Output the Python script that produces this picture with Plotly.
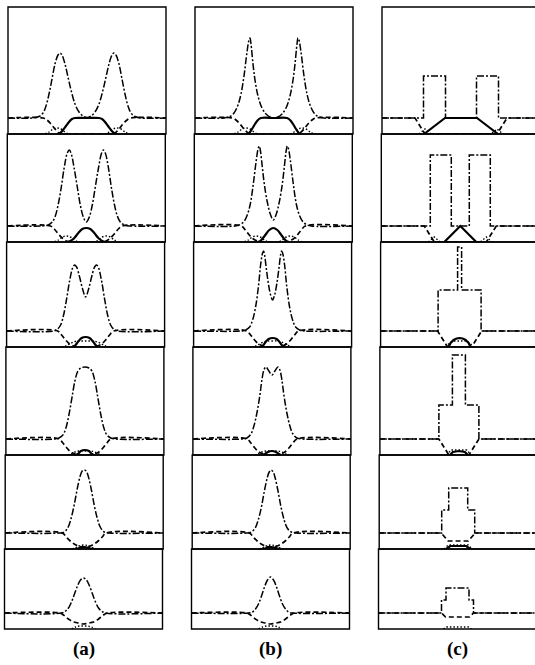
import plotly.graph_objects as go

# ---------------- data: half-profiles (distance from panel centre, level) ----------------
# Column (a)
A_TOTAL = [
    [(0,16.5),(4,18),(8,22),(12,30),(16,44),(19,57),(22,70),(25,79),(27,81),(29,79),(32,70),(35,55),(38,40),(41,28),(44,21),(48,17.5),(54,16),(79,16)],
    [(0,20),(3,25),(6,37),(9,55),(12,73),(15,88),(17,92),(19,89),(22,75),(25,55),(28,38),(31,26),(34,20),(38,17),(44,16),(79,16)],
    [(0,50),(3,58),(6,70),(9,80),(11,82),(13,79),(16,66),(19,48),(22,32),(25,22),(28,18),(32,16),(79,16)],
    [(0,88),(4,87),(7,84),(10,74),(13,57),(16,40),(19,27),(22,20),(26,17),(30,16),(79,16)],
    [(0,79),(2,78),(4,73),(7,60),(10,44),(13,31),(16,22),(20,17),(25,16),(79,16)],
    [(0,51),(3,49),(6,43),(9,35),(12,27),(15,21),(18,18),(22,16),(79,16)],
]
A_DARK = [
    [(0,0),(25,0),(28,1),(32,5),(36,10),(40,14),(44,16),(79,16)],
    [(0,0),(17,0),(20,1),(24,4),(28,8),(32,13),(36,16),(79,16)],
    [(0,0),(9,0),(12,1),(16,3),(20,7),(24,12),(28,16),(79,16)],
    [(0,0),(6,0),(10,1),(14,3),(18,7),(22,12),(26,16),(79,16)],
    [(0,2),(6,3),(10,5),(14,8),(18,12),(22,16),(79,16)],
    [(0,5),(5,6),(10,7),(15,10),(20,14),(24,16),(79,16)],
]
A_SOLID = [
    [(0,16),(12,16),(15,15),(18,12),(21,8),(24,4),(27,1),(30,0)],
    [(0,14),(4,13),(8,9),(12,4),(16,1),(19,0)],
    [(0,10),(4,9),(7,6),(10,2),(12,0)],
    [(0,5),(4,4),(7,1),(9,0)],
    [(0,2),(5,1),(8,0)],
    [],
]
A_DOT = [
    [(18,0),(22,2),(26,5),(30,6),(34,5),(38,2),(42,0)],
    [(8,0),(12,2),(16,5),(20,6),(24,5),(28,2),(32,0)],
    [(0,6),(4,6),(8,6),(12,5),(16,3),(20,1),(24,0)],
    [(0,4),(6,4),(10,3),(14,1),(17,0)],
    [(0,4),(5,3),(9,1),(12,0)],
    [(0,3),(4,3),(8,2),(12,0)],
]

# Column (b)
B_TOTAL = [
    [(0,16),(4,17),(8,20),(12,26),(16,38),(19,54),(21,70),(23,90),(24,96),(25,94),(27,82),(30,58),(33,40),(36,29),(40,21),(44,17.5),(50,16),(79,16)],
    [(0,22),(3,28),(6,40),(9,58),(11,75),(13,92),(14,96),(15,94),(17,82),(20,58),(23,38),(26,27),(29,21),(33,17.5),(38,16),(79,16)],
    [(0,47),(2,52),(4,62),(6,76),(8,92),(9,96),(10,94),(12,82),(14,62),(17,40),(20,27),(23,20),(27,17),(32,16),(79,16)],
    [(0,80),(3,84),(6,88),(8,85),(10,75),(12,60),(15,42),(18,29),(21,21),(25,17),(30,16),(79,16)],
    [(0,79),(2,77),(4,71),(7,57),(10,41),(13,29),(16,21),(20,17),(25,16),(79,16)],
    [(0,52),(3,49),(6,42),(9,33),(12,25),(15,20),(18,17),(22,16),(79,16)],
]
B_DARK = [
    [(0,0),(24,0),(26,1),(30,5),(34,10),(38,14),(42,16),(79,16)],
    [(0,0),(13,0),(16,1),(20,3),(24,7),(28,12),(32,16),(79,16)],
    [(0,0),(7,0),(10,1),(14,3),(18,7),(22,12),(26,16),(79,16)],
    [(0,0),(5,0),(9,1),(13,3),(17,7),(21,12),(25,16),(79,16)],
    [(0,2),(6,3),(10,5),(14,8),(18,12),(22,16),(79,16)],
    [(0,5),(5,6),(10,7),(15,10),(20,14),(24,16),(79,16)],
]
B_SOLID = [
    [(0,16),(13,16),(16,14),(19,10),(22,5),(25,1),(27,0)],
    [(0,14),(4,12),(8,7),(12,2),(15,0)],
    [(0,9),(4,8),(7,5),(10,1),(12,0)],
    [(0,4),(4,3),(7,1),(9,0)],
    [(0,2),(5,1),(8,0)],
    [],
]
B_DOT = [
    [(16,0),(20,2),(24,5),(28,6),(32,5),(36,2),(40,0)],
    [(5,0),(9,2),(13,5),(17,6),(21,5),(25,2),(29,0)],
    [(0,6),(5,6),(9,5),(13,3),(17,1),(21,0)],
    [(0,4),(6,4),(10,3),(14,1),(17,0)],
    [(0,4),(5,3),(9,1),(12,0)],
    [(0,3),(4,3),(8,2),(12,0)],
]

# Column (c)  (piecewise, step-like profiles)
C_TOTAL = [
    [(0,16),(15.5,16),(15.5,58),(37.5,58),(37.5,16),(79,16)],
    [(0,16),(9,16),(9,87),(30,87),(30,16),(79,16)],
    [(0,100),(2,100),(2,57),(21.5,57),(21.5,16),(79,16)],
    [(0,100),(6.5,100),(6.5,50),(20,50),(20,16),(79,16)],
    [(0,61),(9.5,61),(9.5,39),(16.5,39),(16.5,16),(79,16)],
    [(0,41),(11.5,41),(11.5,29),(16,29),(16,16),(79,16)],
]
C_DARK = [
    [(0,0),(36,0),(46,16),(79,16)],
    [(0,0),(26,0),(36,16),(79,16)],
    [(0,0),(12,0),(22,16),(79,16)],
    [(0,0),(10,0),(20,16),(79,16)],
    [(0,8),(10,8),(17,16),(79,16)],
    [(0,12),(12,12),(16,16),(79,16)],
]
C_SOLID = [
    [(0,16),(16,16),(37,0)],
    [(0,16),(16,0)],
    [(0,9),(3,8.5),(6,7),(9,4),(11,0)],
    [(0,4),(6,3),(9,0)],
    [(0,3),(8,3),(12,0)],
    [],
]
C_DOT = [
    [(30,0),(36,5),(42,0)],
    [(20,0),(26,5),(32,0)],
    [(0,6),(6,6),(10,4),(14,0)],
    [(0,5),(8,5),(12,0)],
    [(0,4),(10,4),(14,0)],
    [(0,2),(11,2),(14,0)],
]

PANEL_LABELS = ["(a)", "(b)", "(c)"]

# ---------------- layout geometry ----------------
W, H = 535, 665
ROW_EDGES = [7, 134, 242, 347, 455, 549, 629]
COL_CENTER = [87, 274, 461]
SKEW = 0.7
HALF = 79

COLUMNS = [
    (A_TOTAL, A_DARK, A_SOLID, A_DOT, "spline"),
    (B_TOTAL, B_DARK, B_SOLID, B_DOT, "spline"),
    (C_TOTAL, C_DARK, C_SOLID, C_DOT, "linear"),
]

STYLE_TOTAL = dict(color="black", width=1.5, dash="7px,2px,2px,2px")
STYLE_DARK = dict(color="black", width=1.7, dash="5px,3px")
STYLE_SOLID = dict(color="black", width=2.2)
STYLE_DOT = dict(color="black", width=1.4, dash="1.5px,2px")


def mirror(half):
    if not half:
        return [], []
    left = [(-o, v) for o, v in reversed(half)]
    right = half[1:] if half[0][0] == 0 else list(half)
    pts = left + right
    return [p[0] for p in pts], [p[1] for p in pts]


fig = go.Figure()
layout = dict(width=W, height=H, margin=dict(l=0, r=0, t=0, b=0),
              paper_bgcolor="white", plot_bgcolor="rgba(0,0,0,0)",
              showlegend=False)
shapes = []
k = 0
for ci, (tot, dark, solid, dot, shape) in enumerate(COLUMNS):
    for r in range(6):
        k += 1
        cx = COL_CENTER[ci] - SKEW * r
        left = cx - HALF
        right = min(cx + HALF, W)
        top, bot = ROW_EDGES[r], ROW_EDGES[r + 1]
        xname = "xaxis" if k == 1 else f"xaxis{k}"
        yname = "yaxis" if k == 1 else f"yaxis{k}"
        xref = "x" if k == 1 else f"x{k}"
        yref = "y" if k == 1 else f"y{k}"
        layout[xname] = dict(domain=[left / W, right / W], range=[-HALF, right - cx],
                             visible=False, anchor=yref, fixedrange=True)
        layout[yname] = dict(domain=[1 - bot / H, 1 - top / H], range=[0, bot - top],
                             visible=False, anchor=xref, fixedrange=True)
        for data, style in ((dot, STYLE_DOT), (solid, STYLE_SOLID), (dark, STYLE_DARK), (tot, STYLE_TOTAL)):
            xs, ys = mirror(data[r])
            if not xs:
                continue
            fig.add_trace(go.Scatter(x=xs, y=ys, mode="lines", line=dict(shape=shape, **style),
                                     xaxis=xref, yaxis=yref, hoverinfo="skip"))
        x1 = (cx + HALF) / W
        shapes.append(dict(type="rect", xref="paper", yref="paper",
                           x0=left / W, x1=x1, y0=1 - bot / H, y1=1 - top / H,
                           line=dict(color="black", width=1.4)))

annotations = []
for ci, lab in enumerate(PANEL_LABELS):
    annotations.append(dict(text="<b>" + lab + "</b>", xref="paper", yref="paper",
                            x=(COL_CENTER[ci] - SKEW * 5) / W, y=1 - 649 / H,
                            showarrow=False, xanchor="center", yanchor="middle",
                            font=dict(family="Liberation Serif", size=19, color="black")))

layout["shapes"] = shapes
layout["annotations"] = annotations
fig.update_layout(**layout)
fig.write_html("out.html")
